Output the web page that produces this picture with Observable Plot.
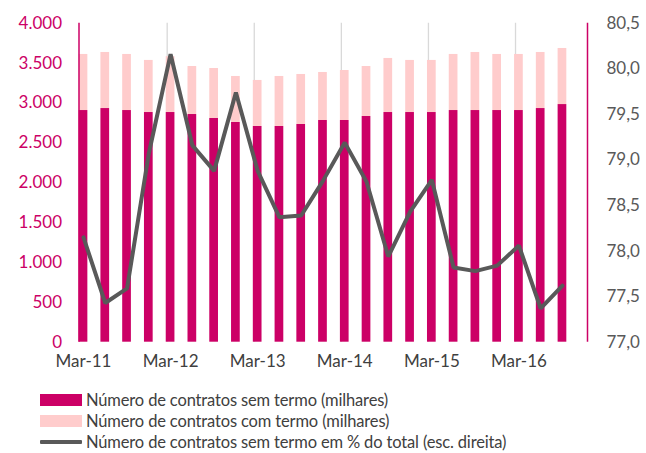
<!DOCTYPE html>
<html><head><meta charset="utf-8">
<script src="https://cdn.jsdelivr.net/npm/d3@7"></script>
<script src="https://cdn.jsdelivr.net/npm/@observablehq/plot@0.6"></script>
<style>
body{margin:0;background:#fff;font-family:Lato,"Open Sans",sans-serif;}
#wrap{position:relative;width:646px;height:453px;overflow:hidden;}
#chart{position:absolute;left:0;top:0;}
#legend{position:absolute;left:40px;top:389px;color:#404040;font-size:16.5px;letter-spacing:-0.15px;}
.row{display:flex;align-items:center;height:21px;white-space:nowrap;}
.sw{width:42px;height:12px;margin-right:4px;flex:none;}
.ln{width:42px;height:4px;margin-right:4px;flex:none;background:#595959;border-radius:1px;}
</style></head><body>
<div id="wrap"><div id="chart"></div><div id="legend"></div></div>
<script>
const quarters = ["Mar-11","Jun-11","Set-11","Dez-11","Mar-12","Jun-12","Set-12","Dez-12","Mar-13","Jun-13","Set-13","Dez-13","Mar-14","Jun-14","Set-14","Dez-14","Mar-15","Jun-15","Set-15","Dez-15","Mar-16","Jun-16","Set-16"];
const semTermo = [2905,2930,2905,2880,2880,2855,2805,2755,2705,2705,2730,2780,2780,2830,2880,2880,2880,2905,2905,2905,2905,2930,2980];
const comTermo = [703,703,703,653,700,602,627,577,577,627,627,602,627,627,678,653,653,703,728,703,703,703,703];
const pctSemTermo = [78.15,77.43,77.59,79.07,80.16,79.16,78.88,79.74,78.88,78.37,78.39,78.77,79.19,78.76,77.94,78.43,78.78,77.82,77.78,77.84,78.06,77.37,77.62];
const xTickLabels = ["Mar-11","Mar-12","Mar-13","Mar-14","Mar-15","Mar-16"];
const leftTicks = [0,500,1000,1500,2000,2500,3000,3500,4000];
const rightTicks = [77,77.5,78,78.5,79,79.5,80,80.5];
const legendLabels = ["Número de contratos sem termo (milhares)","Número de contratos com termo (milhares)","Número de contratos sem termo em % do total (esc. direita)"];

const MAGENTA = "#cc0066", PINK = "#ffcccc", GREY = "#595959";
const leftMax = 4000, rMin = 77, rMax = 80.5;
const toLeft = p => (p - rMin) / (rMax - rMin) * leftMax;
const fromLeft = v => v / leftMax * (rMax - rMin) + rMin;
const xDomain = [-0.2067, 23.15];
const data = quarters.map((q, i) => ({i, q, sem: semTermo[i], com: comTermo[i], pct: pctSemTermo[i]}));
const tickIdx = xTickLabels.map(l => quarters.indexOf(l));
const gridIdx = tickIdx.slice(1);
const fmtLeft = d3.formatLocale({decimal: ",", thousands: ".", grouping: [3], currency: ["", ""]}).format(",.0f");

const chart = Plot.plot({
  width: 646, height: 385,
  marginLeft: 78.5, marginRight: 59, marginTop: 22.7, marginBottom: 43.3,
  style: {fontFamily: "Lato, 'Open Sans', sans-serif", fontSize: "17px", background: "#fff"},
  x: {type: "linear", domain: xDomain, axis: null},
  y: {domain: [0, leftMax], axis: null},
  marks: [
    Plot.ruleX(gridIdx, {x: d => d, dx: -3.4, y1: 0, y2: leftMax, stroke: "#d9d9d9", strokeWidth: 1.3}),
    Plot.rect(data, {x1: d => d.i - 0.2, x2: d => d.i + 0.2, y1: 0, y2: "sem", fill: MAGENTA}),
    Plot.rect(data, {x1: d => d.i - 0.2, x2: d => d.i + 0.2, y1: "sem", y2: d => d.sem + d.com, fill: PINK}),
    Plot.line(data, {x: "i", y: d => toLeft(d.pct), stroke: GREY, strokeWidth: 4, strokeLinejoin: "miter"}),
    Plot.ruleX([xDomain[0]], {y1: 0, y2: leftMax, stroke: MAGENTA, strokeWidth: 1.5}),
    Plot.ruleX([xDomain[1]], {y1: 0, y2: leftMax, stroke: MAGENTA, strokeWidth: 1.5}),
    Plot.axisY(leftTicks, {anchor: "left", tickSize: 0, tickPadding: 17, tickFormat: fmtLeft, color: MAGENTA, label: null}),
    Plot.axisY(rightTicks.map(toLeft), {anchor: "right", tickSize: 0, tickPadding: 19, tickFormat: v => d3.format(".1f")(fromLeft(v)).replace(".", ","), color: GREY, label: null}),
    Plot.axisX(tickIdx, {tickSize: 0, tickPadding: 13, tickFormat: i => quarters[i], color: "#404040", label: null})
  ]
});
document.getElementById("chart").appendChild(chart);

const legend = document.getElementById("legend");
const swatches = [`<div class="sw" style="background:${MAGENTA}"></div>`, `<div class="sw" style="background:${PINK}"></div>`, `<div class="ln"></div>`];
legendLabels.forEach((t, k) => {
  const row = document.createElement("div");
  row.className = "row";
  row.innerHTML = swatches[k] + `<span>${t}</span>`;
  legend.appendChild(row);
});
</script></body></html>
